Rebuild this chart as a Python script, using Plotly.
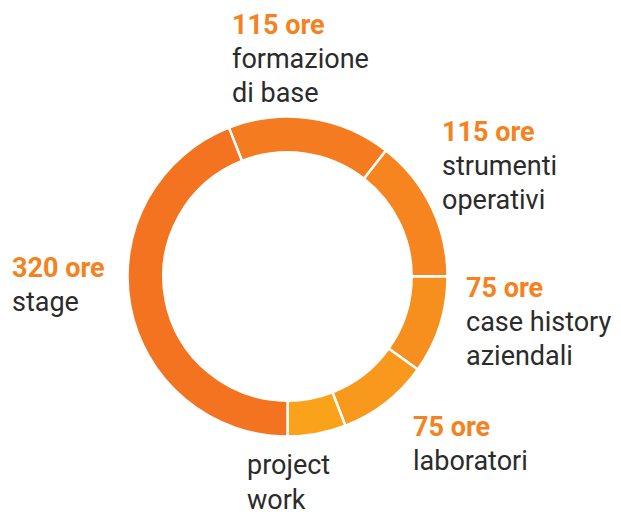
import plotly.graph_objects as go

# ---- data ----
categories = ["formazione di base", "strumenti operativi", "case history aziendali",
              "laboratori", "project work", "stage"]
hour_labels = ["115 ore", "115 ore", "75 ore", "75 ore", "", "320 ore"]
name_lines = [["formazione", "di base"], ["strumenti", "operativi"],
              ["case history", "aziendali"], ["laboratori"], ["project", "work"], ["stage"]]
# slice sizes as measured on the ring (degrees of arc)
slice_share = [59.5, 52.0, 35.5, 33.3, 21.2, 158.5]

# ---- styling ----
slice_colors = ["#F47B20", "#F6841F", "#F78F1E", "#F8981C", "#FAA21A", "#F37321"]
ORANGE = "#F58220"
DARK = "#2B2B2B"
W, H = 621, 512
FS = 27

fig = go.Figure(go.Pie(
    labels=categories,
    values=slice_share,
    sort=False,
    direction="clockwise",
    rotation=-21.5,
    hole=0.776,
    textinfo="none",
    hoverinfo="label",
    marker=dict(colors=slice_colors, line=dict(color="white", width=2.5)),
    domain=dict(x=[127 / W, 448 / W], y=[1 - 436.5 / H, 1 - 116.5 / H]),
    showlegend=False,
))

# label anchor positions (left x, first baseline y) in pixels
label_pos = [(230, 37), (440, 144), (464, 300), (411, 439), (245, 477), (10, 280)]
LINE = 34
PROJECT_LINE = 35

annotations = []
for hl, lines, (lx, by) in zip(hour_labels, name_lines, label_pos):
    rows = []
    if hl:
        rows.append((hl, True))
    rows += [(t, False) for t in lines]
    step = PROJECT_LINE if not hl else LINE
    for i, (txt, bold) in enumerate(rows):
        base = by + i * step
        annotations.append(dict(
            x=lx / W, y=1 - base / H, xref="paper", yref="paper",
            xanchor="left", yanchor="bottom", yshift=-0.22 * FS,
            text=f"<b>{txt}</b>" if bold else txt,
            showarrow=False,
            font=dict(family="Roboto", size=FS, color=ORANGE if bold else DARK),
        ))

fig.update_layout(
    width=W, height=H,
    margin=dict(l=0, r=0, t=0, b=0),
    paper_bgcolor="white", plot_bgcolor="white",
    annotations=annotations,
)
fig.write_html("out.html", config={"displayModeBar": False},
               post_script="document.body.style.margin='0px';document.body.style.overflow='hidden';")
